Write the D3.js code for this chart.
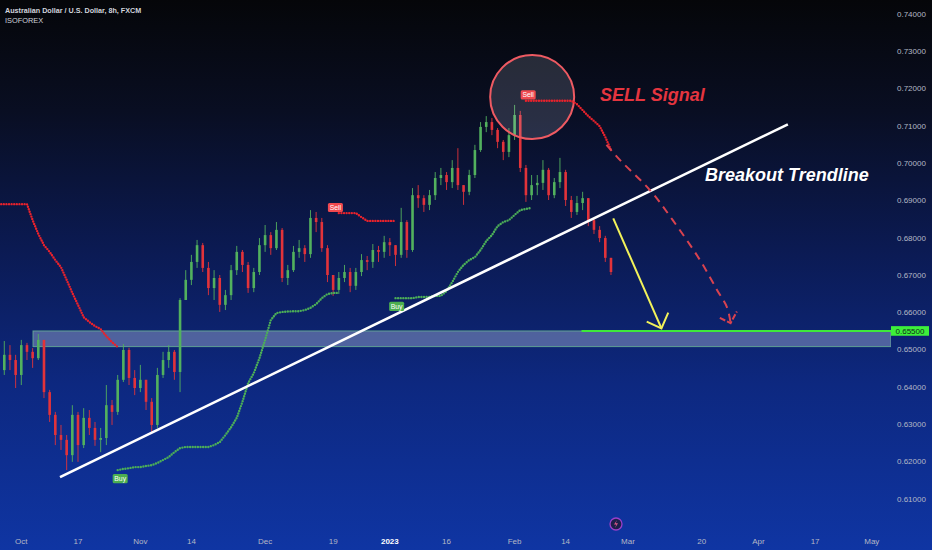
<!DOCTYPE html>
<html><head><meta charset="utf-8">
<script src="https://cdn.jsdelivr.net/npm/d3@7"></script>
<style>html,body{margin:0;padding:0;background:#05060a;overflow:hidden}</style>
</head><body><svg id="c" width="932" height="550"></svg>
<script>
// ---- data (trading-day index, 0 = Oct 3 2022) ----
const startIndex = -4;
const firstOpen = 0.6410;
const closes = [
0.6445,0.6486,0.6472,0.6432,0.6512,0.6494,0.6477,0.6526,0.6386,0.6325,
0.6271,0.6258,0.6217,0.6325,0.6244,0.6317,0.6290,0.6258,0.6263,0.6351,
0.6333,0.6419,0.6499,0.6424,0.6397,0.6419,0.6360,0.6298,0.6432,0.6472,
0.6494,0.6440,0.6633,0.6687,0.6735,0.6780,0.6719,0.6665,0.6692,0.6620,
0.6646,0.6713,0.6762,0.6727,0.6665,0.6708,0.6780,0.6807,0.6772,0.6821,
0.6692,0.6713,0.6762,0.6772,0.6756,0.6853,0.6842,0.6772,0.6700,0.6660,
0.6692,0.6708,0.6671,0.6708,0.6740,0.6735,0.6767,0.6762,0.6788,0.6780,
0.6754,0.6842,0.6767,0.6914,0.6906,0.6888,0.6914,0.6960,0.6968,0.6949,
0.6987,0.6941,0.6923,0.6968,0.7035,0.7097,0.7110,0.7089,0.7057,0.7030,
0.7075,0.7129,0.6987,0.6914,0.6941,0.6947,0.6982,0.6914,0.6949,0.6976,
0.6901,0.6869,0.6893,0.6906,0.6847,0.6821,0.6799,0.6746,0.6708];
const highs = [
0.6512,0.6523,0.6512,0.6486,0.6526,0.6518,0.6504,0.6542,0.6512,0.6392,
0.6333,0.6298,0.6271,0.6351,0.6333,0.6343,0.6338,0.6306,0.6290,0.6405,
0.6365,0.6432,0.6515,0.6505,0.6445,0.6459,0.6419,0.6370,0.6451,0.6494,
0.6512,0.6499,0.6638,0.6713,0.6754,0.6794,0.6786,0.6735,0.6713,0.6700,
0.6660,0.6727,0.6778,0.6767,0.6735,0.6719,0.6799,0.6834,0.6815,0.6842,
0.6826,0.6727,0.6778,0.6794,0.6780,0.6874,0.6869,0.6853,0.6780,0.6700,
0.6708,0.6727,0.6719,0.6719,0.6756,0.6751,0.6783,0.6778,0.6805,0.6799,
0.6780,0.6880,0.6847,0.6933,0.6941,0.6914,0.6928,0.6976,0.6987,0.6976,
0.7008,0.7040,0.6941,0.6982,0.7049,0.7110,0.7126,0.7121,0.7094,0.7062,
0.7094,0.7156,0.7140,0.6995,0.6968,0.6968,0.7008,0.6987,0.6960,0.7014,
0.6982,0.6912,0.6912,0.6923,0.6906,0.6853,0.6831,0.6805,0.6746];
const lows = [
0.6392,0.6432,0.6445,0.6397,0.6405,0.6472,0.6451,0.6472,0.6370,0.6306,
0.6244,0.6231,0.6177,0.6199,0.6199,0.6236,0.6271,0.6242,0.6225,0.6244,
0.6298,0.6325,0.6413,0.6405,0.6378,0.6386,0.6338,0.6279,0.6290,0.6424,
0.6451,0.6419,0.6386,0.6633,0.6673,0.6719,0.6708,0.6646,0.6633,0.6601,
0.6606,0.6633,0.6700,0.6708,0.6652,0.6654,0.6700,0.6762,0.6754,0.6767,
0.6681,0.6673,0.6708,0.6746,0.6735,0.6746,0.6815,0.6762,0.6681,0.6644,
0.6649,0.6681,0.6654,0.6660,0.6697,0.6713,0.6719,0.6735,0.6746,0.6751,
0.6724,0.6746,0.6746,0.6762,0.6880,0.6869,0.6874,0.6901,0.6941,0.6928,
0.6933,0.6928,0.6888,0.6914,0.6960,0.7030,0.7083,0.7075,0.7040,0.7008,
0.7016,0.7062,0.6976,0.6896,0.6901,0.6914,0.6928,0.6901,0.6906,0.6933,
0.6885,0.6853,0.6861,0.6874,0.6831,0.6810,0.6788,0.6735,0.6700];

// trailing stop indicator segments
const sellStop1Start = -4;
const sellStop1 = [0.6890,0.6890,0.6890,0.6890,0.6890,0.6890,0.6847,0.6810,0.6780,0.6762,0.6740,0.6721,0.6687,0.6652,0.6620,0.6587,0.6574,0.6563,0.6555,0.6536,0.6520,0.6507];
const buyStop1Start = 17;
const buyStop1 = [0.6177,0.6180,0.6182,0.6185,0.6185,0.6188,0.6190,0.6196,0.6204,0.6212,0.6225,0.6236,0.6239,0.6239,0.6239,0.6239,0.6239,0.6244,0.6252,0.6271,0.6292,0.6317,0.6360,0.6410,0.6437,0.6477,0.6526,0.6579,0.6598,0.6601,0.6602,0.6603,0.6603,0.6606,0.6612,0.6622,0.6638,0.6649,0.6652,0.6652];
const sellStop2Start = 56;
const sellStop2 = [0.6866,0.6866,0.6866,0.6866,0.6855,0.6845,0.6845,0.6845,0.6845,0.6845,0.6845];
const buyStop2Start = 66;
const buyStop2 = [0.6638,0.6638,0.6638,0.6638,0.6641,0.6641,0.6641,0.6644,0.6644,0.6657,0.6681,0.6708,0.6727,0.6740,0.6748,0.6767,0.6791,0.6807,0.6831,0.6842,0.6847,0.6861,0.6874,0.6877,0.6880];
const sellStop3Start = 89;
const sellStop3 = [0.7167,0.7167,0.7167,0.7167,0.7167,0.7167,0.7167,0.7167,0.7167,0.7158,0.7142,0.7126,0.7113,0.7099,0.7070,0.7035];

const signals = [
  {type:"Buy",  i:17.44, p:0.6154},
  {type:"Sell", i:55.4,  p:0.6881},
  {type:"Buy",  i:66.2,  p:0.6616},
  {type:"Sell", i:89.4,  p:0.7183}
];

const xTicks = [
  {label:"Oct",i:0},{label:"17",i:10},{label:"Nov",i:21},{label:"14",i:30},
  {label:"Dec",i:43},{label:"19",i:55},{label:"2023",i:65,bold:true},{label:"16",i:75},
  {label:"Feb",i:87},{label:"14",i:96},{label:"Mar",i:107},{label:"20",i:120},
  {label:"Apr",i:130},{label:"17",i:140},{label:"May",i:150}
];
const yTicks = [0.61,0.62,0.63,0.64,0.65,0.66,0.67,0.68,0.69,0.70,0.71,0.72,0.73,0.74];

// annotations
const zone = {top:0.655, bottom:0.6508, fromI:2.06};
const support = {p:0.655, fromI:98.8};
const trendline = [{i:6.83,p:0.6158},{i:135.2,p:0.7104}];
const sellCircle = {i:90.1, p:0.7177};
const yellowArrow = [{i:104.4,p:0.6852},{i:112.9,p:0.6557}];
const yellowHead = [{i:110.3,p:0.6575},{i:112.9,p:0.6557},{i:114.1,p:0.6599}];
const redPath = [{i:103.2,p:0.7049},{i:105.6,p:0.7008},{i:110.9,p:0.6927},{i:114.9,p:0.6847},{i:119.7,p:0.6740},{i:122.7,p:0.6660},{i:124.5,p:0.6612},{i:125.1,p:0.6571}];
const redHead = [{i:123.2,p:0.6585},{i:125.1,p:0.6571},{i:126.2,p:0.6602}];

// ---- drawing ----
const W = 932, H = 550, plotRight = 891;
const svg = d3.select("#c");
const x = d3.scaleLinear().domain([0,150]).range([21.3,871.8]);
const y = d3.scaleLinear().domain([0.61,0.74]).range([498.8,13.9]);
const FONT = "'Liberation Sans', Arial, sans-serif";

const defs = svg.append("defs");
const grad = defs.append("linearGradient").attr("id","bg").attr("x1",0).attr("y1",0).attr("x2",0).attr("y2",1);
[[0,"#050609"],[0.2,"#090e22"],[0.45,"#0b1a52"],[0.7,"#0d2880"],[1,"#0f35a3"]].forEach(s=>grad.append("stop").attr("offset",s[0]).attr("stop-color",s[1]));
defs.append("clipPath").attr("id","plot").append("rect").attr("x",0).attr("y",0).attr("width",plotRight).attr("height",510);
svg.append("rect").attr("width",W).attr("height",H).attr("fill","url(#bg)");

const g = svg.append("g").attr("clip-path","url(#plot)");

// zone
g.append("rect").attr("x",x(zone.fromI)).attr("y",y(zone.top))
  .attr("width",plotRight - x(zone.fromI)).attr("height",y(zone.bottom)-y(zone.top))
  .attr("fill","rgba(180,192,228,0.40)").attr("stroke","rgba(110,190,150,0.75)").attr("stroke-width",1);

// candles
const GREEN = "#52b15e", RED = "#e2333a";
const candles = closes.map((c,k)=>({i:startIndex+k, o:k===0?firstOpen:closes[k-1], h:highs[k], l:lows[k], c}));
const cg = g.append("g");
candles.forEach(d=>{
  const col = d.c >= d.o ? GREEN : RED;
  cg.append("line").attr("x1",x(d.i)).attr("x2",x(d.i)).attr("y1",y(d.h)).attr("y2",y(d.l)).attr("stroke",col).attr("stroke-width",0.9);
  const top = y(Math.max(d.o,d.c)), bot = y(Math.min(d.o,d.c));
  cg.append("rect").attr("x",x(d.i)-1.3).attr("width",2.6).attr("y",top).attr("height",Math.max(1,bot-top)).attr("fill",col);
});

// stop lines
function stopLine(start, vals, color){
  const pts = vals.map((v,k)=>[x(start+k), y(v)]);
  g.append("path").attr("d",d3.line()(pts)).attr("fill","none").attr("stroke",color)
    .attr("stroke-width",2.4).attr("stroke-linecap","round").attr("stroke-dasharray","0 2.6");
}
const SRED = "#e8222c", SGREEN = "#4cae58";
stopLine(sellStop1Start, sellStop1, SRED);
stopLine(buyStop1Start, buyStop1, SGREEN);
stopLine(sellStop2Start, sellStop2, SRED);
stopLine(buyStop2Start, buyStop2, SGREEN);

// trendline
const lineIP = d3.line().x(d=>x(d.i)).y(d=>y(d.p));
g.append("path").attr("d",lineIP(trendline)).attr("stroke","#ffffff").attr("stroke-width",2.6).attr("fill","none");

// sell circle
g.append("circle").attr("cx",x(sellCircle.i)).attr("cy",y(sellCircle.p)).attr("r",42)
  .attr("fill","rgba(200,205,225,0.17)").attr("stroke","#ee5a62").attr("stroke-width",2);
stopLine(sellStop3Start, sellStop3, SRED);

// signal labels
signals.forEach(s=>{
  const cx = x(s.i), cy = y(s.p);
  g.append("rect").attr("x",cx-7.5).attr("y",cy-4.6).attr("width",15).attr("height",9.2).attr("rx",1.5)
    .attr("fill", s.type==="Buy" ? "#4caf50" : "#f0494f");
  g.append("text").attr("x",cx).attr("y",cy+2.4).attr("text-anchor","middle").attr("font-family",FONT)
    .attr("font-size",6.8).attr("fill","#ffffff").text(s.type);
});

// support level
g.append("line").attr("x1",x(support.fromI)).attr("x2",plotRight).attr("y1",y(support.p)).attr("y2",y(support.p))
  .attr("stroke","#3ee83a").attr("stroke-width",2);

// yellow arrow
g.append("path").attr("d",lineIP(yellowArrow)).attr("stroke","#f2f25a").attr("stroke-width",2).attr("fill","none");
g.append("path").attr("d",lineIP(yellowHead)).attr("stroke","#f2f25a").attr("stroke-width",2).attr("fill","none").attr("stroke-linejoin","miter");

// red dashed projection
g.append("path").attr("d",d3.line().x(d=>x(d.i)).y(d=>y(d.p)).curve(d3.curveCatmullRom)(redPath))
  .attr("stroke","#d9424f").attr("stroke-width",2).attr("fill","none").attr("stroke-dasharray","8 6");
g.append("path").attr("d",lineIP(redHead)).attr("stroke","#d9424f").attr("stroke-width",2).attr("fill","none").attr("stroke-dasharray","6 2");

// annotation texts
svg.append("text").attr("x",600).attr("y",101).attr("font-family",FONT).attr("font-size",18)
  .attr("font-weight","bold").attr("font-style","italic").attr("fill","#e5353f").text("SELL Signal");
svg.append("text").attr("x",705).attr("y",181).attr("font-family",FONT).attr("font-size",18)
  .attr("font-weight","bold").attr("font-style","italic").attr("fill","#ffffff").text("Breakout Trendline");

// price axis
yTicks.forEach(t=>{
  svg.append("text").attr("x",897).attr("y",y(t)+2.8).attr("font-family",FONT).attr("font-size",8)
    .attr("fill","#b4b8c6").text(t.toFixed(5));
});
svg.append("rect").attr("x",891).attr("y",y(support.p)-4.8).attr("width",38).attr("height",9.6).attr("fill","#3df03a");
svg.append("text").attr("x",910).attr("y",y(support.p)+2.8).attr("text-anchor","middle").attr("font-family",FONT)
  .attr("font-size",8).attr("fill","#0d2a1a").text(support.p.toFixed(5));

// time axis
xTicks.forEach(t=>{
  svg.append("text").attr("x",x(t.i)).attr("y",544).attr("text-anchor","middle").attr("font-family",FONT)
    .attr("font-size",8).attr("font-weight",t.bold?"bold":"normal").attr("fill",t.bold?"#ffffff":"#b4b8c6").text(t.label);
});

// title
svg.append("text").attr("x",5).attr("y",12.8).attr("font-family",FONT).attr("font-size",7.2).attr("font-weight","bold")
  .attr("fill","#d1d4dc").text("Australian Dollar / U.S. Dollar, 8h, FXCM");
svg.append("text").attr("x",5).attr("y",23.3).attr("font-family",FONT).attr("font-size",7.4)
  .attr("fill","#d1d4dc").text("ISOFOREX");

// lightning badge
const lb = svg.append("g").attr("transform","translate(616,524)");
lb.append("circle").attr("r",6).attr("fill","#1b1f4a").attr("stroke","#9a3fc8").attr("stroke-width",1.3);
lb.append("path").attr("d","M1,-4 L-2,0.5 L0.3,0.5 L-1,4 L2,-0.8 L-0.3,-0.8 Z").attr("fill","#e05a8a");
</script>
</body></html>
